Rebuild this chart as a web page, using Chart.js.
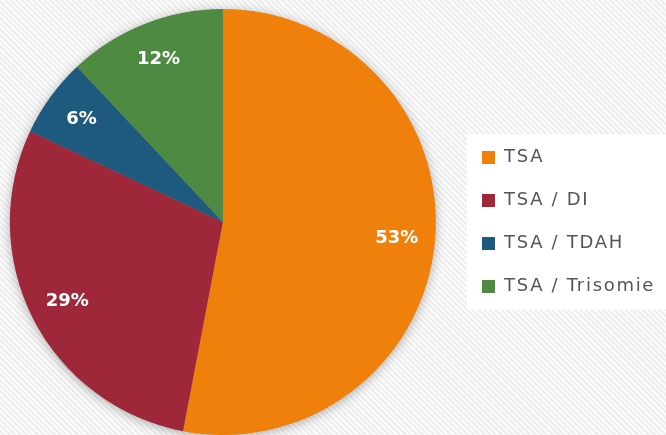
<!DOCTYPE html>
<html>
<head>
<meta charset="utf-8">
<script src="https://cdn.jsdelivr.net/npm/chart.js@4"></script>
<style>
  html, body {
    margin: 0;
    padding: 0;
  }
  body {
    width: 666px;
    height: 435px;
    overflow: hidden;
    background: repeating-linear-gradient(45deg, #fbfbfb 0px, #fbfbfb 2px, #eeeeee 2px, #eeeeee 4px);
  }
  #wrap {
    position: relative;
    width: 666px;
    height: 435px;
  }
</style>
</head>
<body>
<div id="wrap"><canvas id="pieChart"></canvas></div>
<script>
// ==========================================
// Data
// ==========================================

const categories = ['TSA', 'TSA / DI', 'TSA / TDAH', 'TSA / Trisomie'];
const shares = [53, 29, 6, 12];
const sliceColors = ['#F0800C', '#9E2839', '#1D5A7E', '#4F8A43'];

// ==========================================
// Plugins
// ==========================================

// soft shadow under the whole pie, drawn once so slices don't shade each other
const pieShadowPlugin = {
    id: 'pieShadow',
    beforeDatasetsDraw(chart) {
        const arc = chart.getDatasetMeta(0).data[0];
        if (!arc) return;
        const p = arc.getProps(['x', 'y', 'outerRadius'], true);
        const ctx = chart.ctx;
        ctx.letterSpacing = '0px';
        ctx.save();
        ctx.shadowColor = 'rgba(0, 0, 0, 0.35)';
        ctx.shadowBlur = 12;
        ctx.shadowOffsetY = 2;
        ctx.fillStyle = '#888888';
        ctx.beginPath();
        ctx.arc(p.x, p.y, p.outerRadius - 1, 0, Math.PI * 2);
        ctx.fill();
        ctx.restore();
    }
};

// percentage labels inside the slices
const sliceLabelPlugin = {
    id: 'sliceLabels',
    afterDatasetsDraw(chart) {
        const ctx = chart.ctx;
        const meta = chart.getDatasetMeta(0);
        ctx.save();
        ctx.letterSpacing = '0px';
        ctx.fillStyle = '#ffffff';
        ctx.font = 'bold 18px "DejaVu Sans", sans-serif';
        ctx.textAlign = 'center';
        ctx.textBaseline = 'middle';
        meta.data.forEach(function (arc, i) {
            const p = arc.getProps(['x', 'y', 'startAngle', 'endAngle', 'outerRadius'], true);
            const mid = (p.startAngle + p.endAngle) / 2;
            const r = p.outerRadius * 0.82;
            ctx.fillText(shares[i] + '%', p.x + Math.cos(mid) * r, p.y + Math.sin(mid) * r);
        });
        ctx.restore();
    }
};

// move legend a bit right of its layout slot and put a white panel behind it
const legendLeft = 457;
const legendPanelPlugin = {
    id: 'legendPanel',
    afterLayout(chart) {
        const lg = chart.legend;
        if (!lg) return;
        lg.left = legendLeft;
        lg.right = chart.width;
    },
    beforeDraw(chart) {
        const lg = chart.legend;
        if (!lg || !lg.legendHitBoxes.length) return;
        const boxes = lg.legendHitBoxes;
        const last = boxes[boxes.length - 1];
        const top = boxes[0].top - 14;
        const bottom = last.top + last.height + 14;
        const ctx = chart.ctx;
        ctx.save();
        ctx.fillStyle = '#ffffff';
        ctx.fillRect(lg.left + 10, top, chart.width - lg.left - 10, bottom - top);
        ctx.restore();
        // the legend font in the original runs wider
        ctx.letterSpacing = '1.7px';
    }
};

// ==========================================
// Chart
// ==========================================

function createChart() {
    const ctx = document.getElementById('pieChart').getContext('2d');

    new Chart(ctx, {
        type: 'pie',
        data: {
            labels: categories,
            datasets: [{
                data: shares,
                backgroundColor: sliceColors,
                borderWidth: 0
            }]
        },
        options: {
            responsive: true,
            maintainAspectRatio: false,
            animation: false,
            layout: {
                padding: { top: 9, bottom: 0, left: 0, right: 36 }
            },
            plugins: {
                legend: {
                    position: 'right',
                    labels: {
                        boxWidth: 13,
                        boxHeight: 13,
                        padding: 25,
                        color: '#555555',
                        font: { family: '"DejaVu Sans", sans-serif', size: 18 }
                    }
                },
                tooltip: { enabled: false }
            }
        },
        plugins: [legendPanelPlugin, pieShadowPlugin, sliceLabelPlugin]
    });
}

createChart();
</script>
</body>
</html>
